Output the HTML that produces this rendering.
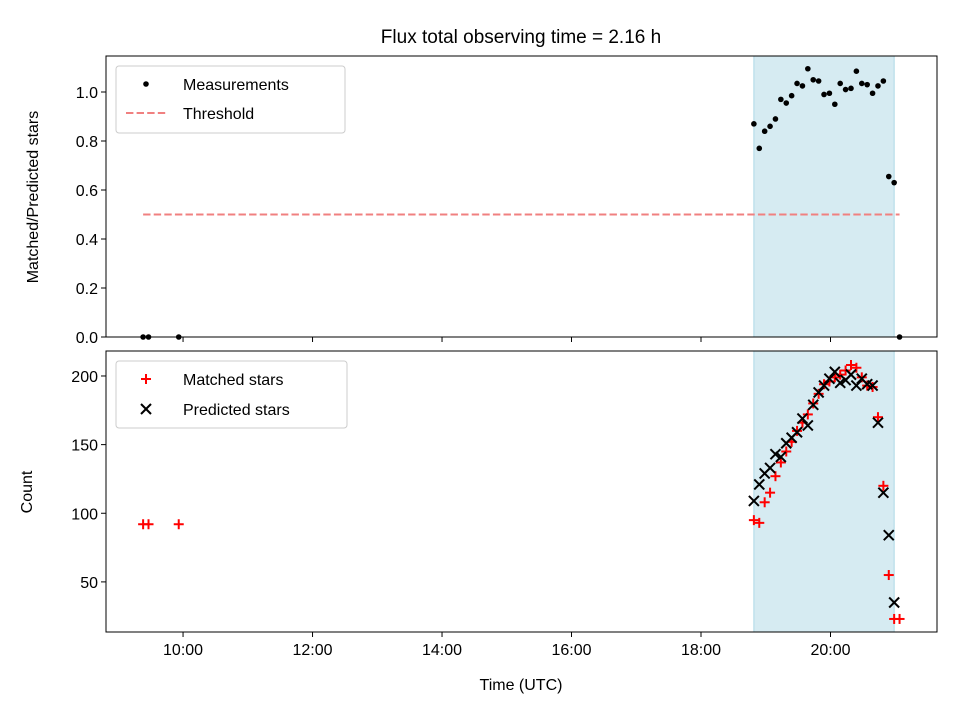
<!DOCTYPE html>
<html><head><meta charset="utf-8"><style>body{margin:0;background:#fff}svg{font-family:"Liberation Sans","DejaVu Sans",sans-serif}</style></head>
<body>
<svg id="c" width="960" height="720" viewBox="0 0 960 720" xmlns="http://www.w3.org/2000/svg"></svg>
<script>
const earlyTimes=["9:23","9:28","9:56"];
const earlyRatio=[0,0,0];
const earlyMatched=[92,92,92];
const times=["18:49","18:54","18:59","19:04","19:09","19:14","19:19","19:24","19:29","19:34","19:39","19:44","19:49","19:54","19:59","20:04","20:09","20:14","20:19","20:24","20:29","20:34","20:39","20:44","20:49","20:54","20:59","21:04"];
const ratio=[0.87,0.77,0.84,0.86,0.89,0.97,0.955,0.985,1.035,1.025,1.095,1.05,1.045,0.99,0.995,0.95,1.035,1.01,1.015,1.085,1.035,1.03,0.995,1.025,1.045,0.655,0.63,0];
const matched=[95,93,108,115,127,137,145,152,160,166,172,180,187,194,196,199,201,204,208,206,199,193,192,170,120,55,23,23];
const predicted=[109,121,129,133,143,141,151,155,159,169,164,179,188,193,198,203,195,197,201,193,198,194,193,166,115,84,35,null];
const threshold=0.5;
const xTicks=[10,12,14,16,18,20];
const xTickLabels=["10:00","12:00","14:00","16:00","18:00","20:00"];
const topTicks=[0,0.2,0.4,0.6,0.8,1.0];
const botTicks=[50,100,150,200];
const shadeRange=["18:49","20:59"];

const NS="http://www.w3.org/2000/svg",svg=document.getElementById('c');
function mk(t,a,p){const e=document.createElementNS(NS,t);for(const k in a)e.setAttribute(k,a[k]);(p||svg).appendChild(e);return e;}
function hrs(s){const[p,q]=s.split(':');return +p+ +q/60;}
const L=106,R=937,xmin=8.81,xmax=21.645;
const X=h=>L+(h-xmin)/(xmax-xmin)*(R-L);
const T1=56,B1=337,B2=632,T2=351;
const Y1=v=>B1-v/1.147*(B1-T1);
const Y2=v=>B2-(v-13.5)/(218.2-13.5)*(B2-T2);
for(const [t,b,n] of [[T1,B1,'top'],[T2,B2,'bottom']]){
 const r=mk('rect',{x:X(hrs(shadeRange[0])),y:t,width:X(hrs(shadeRange[1]))-X(hrs(shadeRange[0])),height:b-t,fill:'#add8e6','fill-opacity':0.5,stroke:'#add8e6'});
 
}
const allT=earlyTimes.concat(times).map(hrs);
const th=mk('line',{x1:X(allT[0]),x2:X(allT[allT.length-1]),y1:Y1(threshold),y2:Y1(threshold),stroke:'#f08080','stroke-width':2,'stroke-dasharray':'7.4,3.2'});

earlyTimes.concat(times).forEach((t,i)=>{const v=i<3?earlyRatio[i]:ratio[i-3];
 const c=mk('circle',{cx:X(hrs(t)),cy:Y1(v),r:2.8,fill:'#000'});});
function plus(x,y){const g=mk('g',{stroke:'red','stroke-width':2});mk('line',{x1:x-5,x2:x+5,y1:y,y2:y},g);mk('line',{x1:x,x2:x,y1:y-5,y2:y+5},g);return g;}
function cross(x,y){const g=mk('g',{stroke:'#000','stroke-width':2});mk('line',{x1:x-5,x2:x+5,y1:y-5,y2:y+5},g);mk('line',{x1:x-5,x2:x+5,y1:y+5,y2:y-5},g);return g;}
earlyTimes.forEach((t,i)=>{const g=plus(X(hrs(t)),Y2(earlyMatched[i]));});
times.forEach((t,i)=>{const g=plus(X(hrs(t)),Y2(matched[i]));});
times.forEach((t,i)=>{if(predicted[i]==null)return;const g=cross(X(hrs(t)),Y2(predicted[i]));});
for(const [t,b,n] of [[T1,B1,'top'],[T2,B2,'bottom']]){const r=mk('rect',{x:L,y:t,width:R-L,height:b-t,fill:'none',stroke:'#000','stroke-width':1});}
function txt(x,y,s,a,name,extra){const e=mk('text',Object.assign({x:x,y:y,'font-size':16,'text-anchor':a||'middle',fill:'#000'},extra||{}));e.textContent=s;return e;}
xTicks.forEach((h,i)=>{const x=X(h);mk('line',{x1:x,x2:x,y1:B1,y2:B1+5,stroke:'#000'});mk('line',{x1:x,x2:x,y1:B2,y2:B2+5,stroke:'#000'});txt(x,B2+23,xTickLabels[i],'middle','x-tick-label');});
topTicks.forEach(v=>{const y=Y1(v);mk('line',{x1:L-5,x2:L,y1:y,y2:y,stroke:'#000'});txt(L-8,y+6,v.toFixed(1),'end','top-y-tick-label');});
botTicks.forEach(v=>{const y=Y2(v);mk('line',{x1:L-5,x2:L,y1:y,y2:y,stroke:'#000'});txt(L-8,y+6,String(v),'end','bottom-y-tick-label');});
txt(521,43,'Flux total observing time = 2.16 h','middle','chart-title',{'font-size':19});
txt(521,690,'Time (UTC)','middle','x-axis-title');
txt(0,0,'Matched/Predicted stars','middle','top-y-axis-title',{transform:'translate(38,197) rotate(-90)'});
txt(0,0,'Count','middle','bottom-y-axis-title',{transform:'translate(32,492) rotate(-90)'});
function legend(y,name){const r=mk('rect',{x:116,y:y,width:name==='top'?229:231,height:67,rx:3,fill:'#fff','fill-opacity':0.8,stroke:'#ccc'});}
legend(66,'top');
const lc=mk('circle',{cx:146,cy:84,r:2.8,fill:'#000'});
txt(183,90,'Measurements','start','legend-measurements');
const ll=mk('line',{x1:126,x2:166,y1:113,y2:113,stroke:'#f08080','stroke-width':2,'stroke-dasharray':'7.4,3.2'});
txt(183,119,'Threshold','start','legend-threshold');
legend(361,'bottom');
const lp=plus(146,379);
txt(183,385,'Matched stars','start','legend-matched');
const lx=cross(146,409);
txt(183,415,'Predicted stars','start','legend-predicted');
</script>
</body></html>
